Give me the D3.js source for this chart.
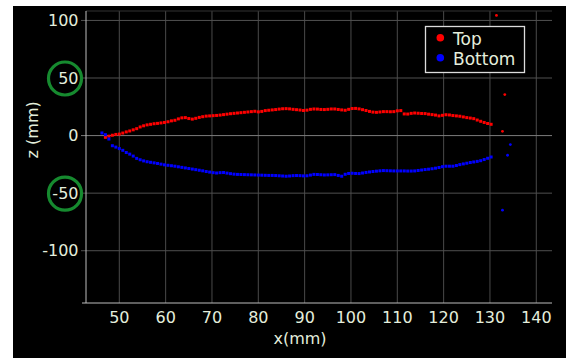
<!DOCTYPE html>
<html>
<head>
<meta charset="utf-8">
<script src="https://cdn.jsdelivr.net/npm/d3@7"></script>
<style>
  body { margin: 0; background: #fff; }
  text { font-family: "DejaVu Sans", sans-serif; fill: #e4eedc; }
</style>
</head>
<body>
<div id="chart"></div>
<script>
// sample positions along x (mm)
const xs = [46.25,47,47.75,48.5,49.25,50,50.75,51.5,52.25,53,53.75,54.5,55.25,56,56.75,57.5,58.25,59,59.75,60.5,
  61.25,62,62.75,63.5,64.25,65,65.75,66.5,67.25,68,68.75,69.5,70.25,71,71.75,72.5,73.25,74,74.75,75.5,
  76.25,77,77.75,78.5,79.25,80,80.75,81.5,82.25,83,83.75,84.5,85.25,86,86.75,87.5,88.25,89,89.75,90.5,
  91.25,92,92.75,93.5,94.25,95,95.75,96.5,97.25,98,98.75,99.5,100.25,101,101.75,102.5,103.25,104,104.75,105.5,
  106.25,107,107.75,108.5,109.25,110,110.75,111.5,112.25,113,113.75,114.5,115.25,116,116.75,117.5,118.25,119,119.75,120.5,
  121.25,122,122.75,123.5,124.25,125,125.75,126.5,127.25,128,128.75,129.5,130.25];

// z of the top profile (mm)
const topZ = [null,-1.5,-0.5,0.3,1.0,1.3,2.2,3.2,4.0,5.0,6.0,7.5,8.5,9.3,9.8,10.3,10.6,11.0,11.4,12.0,
  12.8,13.3,14.5,15.4,15.6,14.8,14.3,15.0,15.8,16.4,16.9,17.1,17.3,17.5,17.8,18.2,18.6,19.0,19.3,19.6,
  19.9,20.2,20.5,20.8,21.1,20.6,21.0,21.7,22.0,22.3,22.6,23.0,23.3,23.4,23.2,22.8,22.5,22.2,21.8,22.1,
  22.8,23.1,23.0,22.7,22.6,22.8,23.1,23.1,22.7,22.3,22.0,22.8,23.5,23.6,23.2,22.5,21.8,21.0,20.4,20.2,
  20.5,20.8,20.8,20.7,20.8,21.5,21.7,18.8,18.7,19.3,19.6,19.4,19.2,19.1,18.6,18.2,17.8,17.1,17.6,18.1,
  17.9,17.4,17.1,16.8,16.2,15.6,15.2,14.7,13.5,12.4,11.4,10.5,9.8];

// z of the bottom profile (mm)
const bottomZ = [2.3,0.8,-3.0,-8.8,-10.0,-11.3,-12.8,-14.7,-16.1,-17.8,-19.8,-21.0,-22.0,-22.7,-23.2,-23.7,-24.2,-24.8,-25.4,-25.8,
  -26.2,-26.6,-27.1,-27.6,-28.1,-28.6,-29.1,-29.6,-30.1,-30.6,-31.2,-31.7,-32.2,-32.5,-32.2,-32.1,-32.6,-33.1,-33.5,-33.7,
  -33.8,-33.9,-34.0,-34.1,-34.2,-34.3,-34.4,-34.5,-34.6,-34.6,-34.7,-34.9,-35.1,-35.3,-35.1,-34.8,-34.7,-34.8,-35.0,-34.9,
  -34.3,-33.7,-33.8,-34.0,-34.2,-34.1,-34.0,-33.9,-34.6,-35.3,-33.6,-32.9,-32.7,-32.9,-33.0,-32.5,-32.0,-31.6,-31.2,-30.9,
  -30.6,-30.4,-30.5,-30.6,-30.7,-30.7,-30.7,-30.7,-30.8,-30.8,-30.7,-30.3,-29.9,-29.5,-29.2,-28.8,-28.3,-27.7,-27.0,-26.6,
  -26.6,-26.6,-26.0,-25.2,-24.6,-24.0,-23.4,-22.9,-22.4,-21.8,-20.8,-19.7,-18.6];

// stray points past the end of the profiles
const topStray = [[131.4, 104.4], [133.2, 35.6], [132.7, 3.7]];
const bottomStray = [[134.4, -7.8], [133.8, -17.1], [132.7, -64.8]];

const xTicks = [50, 60, 70, 80, 90, 100, 110, 120, 130, 140];
const yTicks = [-100, -50, 0, 50, 100];
const circledTicks = [50, -50];
const legendItems = [["Top", "#ff0000"], ["Bottom", "#0000ff"]];

const W = 566, H = 358;
const pl = 86, pr = 552, pt = 11, pb = 303;

const svg = d3.select("#chart").append("svg")
  .attr("width", W).attr("height", H);

svg.append("rect").attr("x", 13).attr("y", 6)
  .attr("width", W - 13).attr("height", H - 6).attr("fill", "#000");

const x = d3.scaleLinear().domain([42.81, 143.39]).range([pl, pr]);
const y = d3.scaleLinear().domain([-145.4, 108.2]).range([pb, pt]);

// grid
const g = svg.append("g");
g.selectAll(".vgrid").data(xTicks).enter().append("line")
  .attr("x1", d => x(d)).attr("x2", d => x(d))
  .attr("y1", pt).attr("y2", pb)
  .attr("stroke", "#4a4a4a").attr("stroke-width", 1);
g.selectAll(".hgrid").data(yTicks).enter().append("line")
  .attr("x1", pl - 5).attr("x2", pr)
  .attr("y1", d => y(d)).attr("y2", d => y(d))
  .attr("stroke", d => d === 0 ? "#7c7c7c" : "#505050").attr("stroke-width", 1);
g.append("line").attr("x1", pl).attr("x2", pr).attr("y1", pt).attr("y2", pt)
  .attr("stroke", "#333").attr("stroke-width", 1);

// axis lines
g.append("line").attr("x1", pl).attr("x2", pl).attr("y1", pt).attr("y2", pb)
  .attr("stroke", "#bdbdbd").attr("stroke-width", 1);
g.append("line").attr("x1", pl - 4).attr("x2", pr).attr("y1", pb).attr("y2", pb)
  .attr("stroke", "#bdbdbd").attr("stroke-width", 1);

// tick labels
svg.selectAll(".xl").data(xTicks).enter().append("text")
  .attr("x", d => x(d)).attr("y", 322.5)
  .attr("text-anchor", "middle").style("font-size", "16px")
  .text(d => d);
svg.selectAll(".yl").data(yTicks).enter().append("text")
  .attr("x", 78.5).attr("y", d => y(d)).attr("dy", "0.36em")
  .attr("text-anchor", "end").style("font-size", "16px")
  .text(d => d);

// axis titles
svg.append("text").attr("x", 300).attr("y", 344)
  .attr("text-anchor", "middle").style("font-size", "16px").text("x(mm)");
svg.append("text").attr("transform", "translate(37.5," + y(5) + ") rotate(-90)")
  .attr("text-anchor", "middle").style("font-size", "16px").text("z (mm)");

// green circles round two tick labels
svg.selectAll(".ring").data(circledTicks).enter().append("circle")
  .attr("cx", 65).attr("cy", d => y(d) + 0.5).attr("r", 16.5)
  .attr("fill", "none").attr("stroke", "#168a2f").attr("stroke-width", 3.2);

// data
const plot = svg.append("g");
function drawSeries(zs, color) {
  const pts = xs.map((d, i) => [d, zs[i]]).filter(d => d[1] !== null);
  plot.selectAll(null).data(pts).enter().append("rect")
    .attr("x", d => x(d[0]) - 1.5).attr("y", d => y(d[1]) - 1.5)
    .attr("width", 3).attr("height", 3)
    .attr("fill", color);
}
drawSeries(topZ, "#ff0000");
drawSeries(bottomZ, "#0000ff");

plot.selectAll(null).data(topStray).enter().append("circle")
  .attr("cx", d => x(d[0])).attr("cy", d => y(d[1])).attr("r", 1.4).attr("fill", "#ff0000");
plot.selectAll(null).data(bottomStray).enter().append("circle")
  .attr("cx", d => x(d[0])).attr("cy", d => y(d[1])).attr("r", 1.4).attr("fill", "#0000ff");

// legend
const lg = svg.append("g");
lg.append("rect").attr("x", 425.5).attr("y", 26.5).attr("width", 99).attr("height", 46)
  .attr("fill", "#000").attr("stroke", "#dcdcdc").attr("stroke-width", 1.3);
lg.selectAll(".ld").data(legendItems).enter().append("circle")
  .attr("cx", 440.3).attr("cy", (d, i) => 37.7 + i * 20).attr("r", 3.8)
  .attr("fill", d => d[1]);
lg.selectAll(".lt").data(legendItems).enter().append("text")
  .attr("x", 453).attr("y", (d, i) => 44.5 + i * 20)
  .style("font-size", "17px").text(d => d[0]);
</script>
</body>
</html>
